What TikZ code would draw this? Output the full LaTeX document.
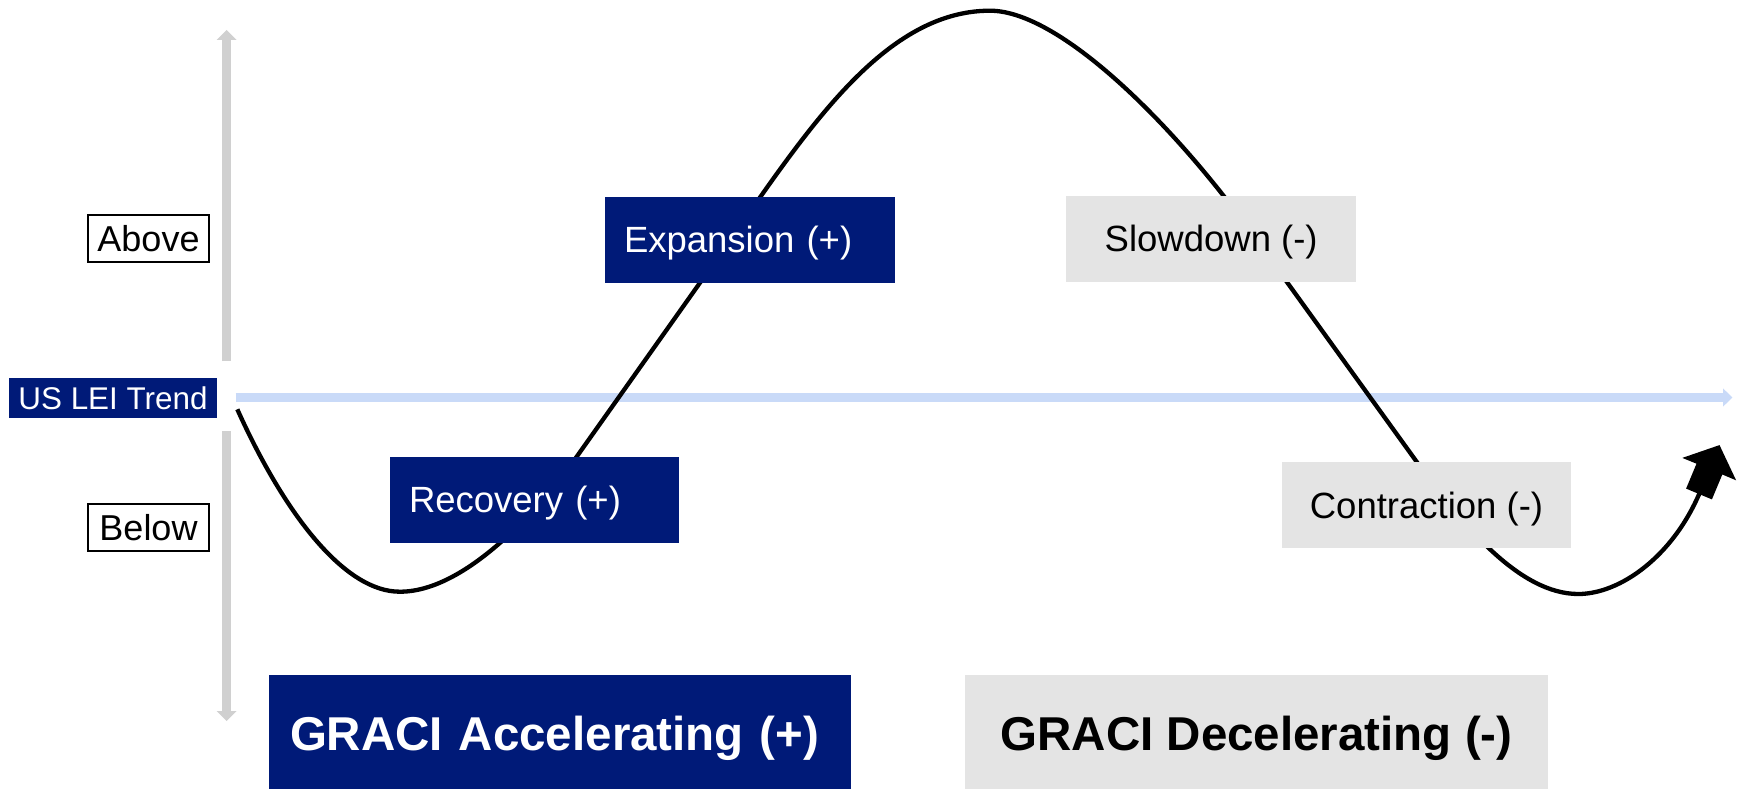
\documentclass[tikz,border=0pt]{standalone}
\usepackage{fontspec}
\setmainfont{Liberation Sans}
\definecolor{navyblue}{RGB}{0,26,120}
\definecolor{panelgray}{RGB}{228,228,228}
\definecolor{axisgray}{RGB}{208,208,208}
\definecolor{trendblue}{RGB}{201,218,248}
\tikzset{
  navybox/.style={fill=navyblue, text=white, inner sep=0pt},
  graybox/.style={fill=panelgray, text=black, inner sep=0pt},
  phase/.style={minimum height=86pt, font=\fontsize{36.5}{40}\selectfont,
                text height=26pt, text depth=0pt},
  regime/.style={minimum height=116pt, font=\bfseries\fontsize{47.5}{52}\selectfont,
                 text height=34pt, text depth=0pt},
  levelbox/.style={draw=black, line width=1.5pt, fill=white, inner sep=0pt,
                   minimum width=121pt, minimum height=47pt,
                   font=\fontsize{36}{40}\selectfont, text height=26pt, text depth=0pt},
  axisline/.style={draw=axisgray, line width=8.5pt},
  trendline/.style={draw=trendblue, line width=8.4pt},
  cycleline/.style={draw=black, line width=4.3pt, line join=round}
}
\begin{document}
\begin{tikzpicture}[x=1pt, y=-1pt]
\useasboundingbox (0,0) rectangle (1746,789);

% vertical above/below axis
\coordinate (axtop) at (226.7,30);
\coordinate (axupper) at (226.7,361);
\coordinate (axlower) at (226.7,431);
\coordinate (axbot) at (226.7,721);
\draw[axisline] (axupper) -- ([yshift=-10pt]axtop);
\fill[axisgray] (216.7,40) -- (axtop) -- (236.7,40) -- cycle;
\draw[axisline] (axlower) -- ([yshift=10pt]axbot);
\fill[axisgray] (216.7,711) -- (axbot) -- (236.7,711) -- cycle;

% trend line
\coordinate (trendstart) at (235.7,397.5);
\coordinate (trendend) at (1732.3,397.5);
\draw[trendline] (trendstart) -- ([xshift=-9.3pt]trendend);
\fill[trendblue] (1723,388.3) -- (trendend) -- (1723,406.7) -- cycle;

% business cycle curve: trough, rise, peak, fall, trough, rebound
\coordinate (cyclestart) at (237.3,409.3);
\coordinate (trough1) at (400,591.7);
\coordinate (peak) at (990,10.7);
\coordinate (trough2) at (1578.3,594);
\coordinate (cycleend) at (1700,492);
\draw[cycleline] (cyclestart)
  .. controls (285,515) and (345,592) .. (trough1)
  .. controls (470,591.7) and (547.8,497.5) .. (576.7,456.7)
  -- (720,254.5)
  .. controls (800.9,140.3) and (880,10.7) .. (peak)
  .. controls (1060,10.7) and (1173.7,125.2) .. (1249.8,230.6)
  -- (1416.6,461.7)
  .. controls (1463.4,526.6) and (1520,594) .. (trough2)
  .. controls (1620,594) and (1672.9,556.5) .. (cycleend);
% block arrow head at the end of the curve
\fill[black] (1686.1,488.6) -- (1696.5,463.7) -- (1682.3,457.9) -- (1719.5,445.1)
  -- (1736.1,480.3) -- (1722.3,474.5) -- (1711.9,499.4) -- cycle;

% level labels
\node[levelbox] (above) at (148.5,238.5) {Above};
\node[levelbox] (below) at (148.5,527.5) {Below};
\node[navybox, minimum width=208pt, minimum height=40pt,
      font=\fontsize{31.4}{34}\selectfont, text height=22.5pt, text depth=0pt]
  (lei) at (113,398) {US LEI Trend};

% cycle phases
\node[navybox, phase, text width=289pt, align=left] (recovery) at (534.5,499.8)
  {\hspace*{19pt}Recovery (+)};
\node[navybox, phase, text width=290pt, align=left] (expansion) at (750,239.7)
  {\hspace*{19pt}Expansion (+)};
\node[graybox, phase, minimum width=290.5pt] (slowdown) at (1211.2,238.9)
  {Slowdown (-)};
\node[graybox, phase, minimum width=289pt] (contraction) at (1426.5,505.2)
  {Contraction (-)};

% GRACI regimes
\node[navybox, regime, text width=582pt, align=left] (accel) at (560,733)
  {\hspace*{21pt}GRACI Accelerating (+)};
\node[graybox, regime, minimum width=583pt] (decel) at (1256.5,733)
  {GRACI Decelerating (-)};
\end{tikzpicture}
\end{document}
